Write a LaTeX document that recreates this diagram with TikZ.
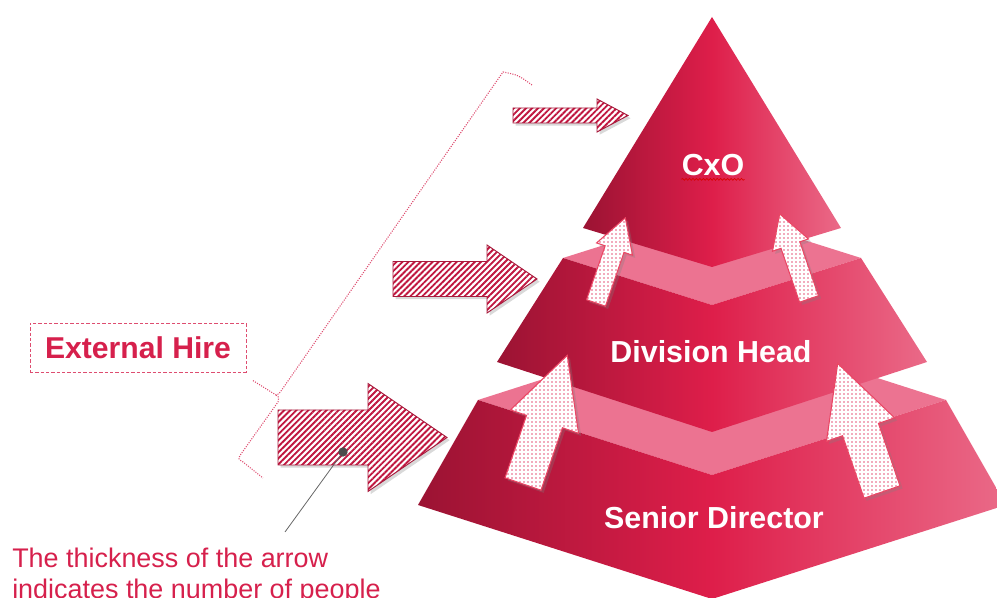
\documentclass[tikz,border=0pt]{standalone}
\usepackage{fontspec}
\setmainfont{Liberation Sans}
\usetikzlibrary{patterns.meta,shadows,decorations.pathmorphing}
\definecolor{tierdark}{HTML}{9B1333}
\definecolor{tiermid}{HTML}{DE1E4A}
\definecolor{tierlight}{HTML}{EA6A88}
\definecolor{tierband}{HTML}{EC7391}
\definecolor{hirered}{HTML}{D6204C}
\definecolor{hatchred}{HTML}{C0163F}
\definecolor{hatchedge}{HTML}{A81A3C}
\definecolor{dotpink}{HTML}{E5587D}
\begin{document}
\begin{tikzpicture}[x=0.75pt,y=0.75pt,
    tier/.style={left color=tierdark,right color=tierlight,middle color=tiermid},
    band/.style={fill=tierband},
    tierlabel/.style={text=white,inner sep=0pt,font=\bfseries\fontsize{22.8}{27}\selectfont},
    hire/.style={draw=hatchedge,line width=0.7pt,
        drop shadow={shadow xshift=2pt,shadow yshift=-2pt,opacity=0.3},
        preaction={fill=white},
        pattern={Lines[angle=45,distance=3.2pt,line width=1.4pt]},pattern color=hatchred},
    promo/.style={draw=dotpink!80!red,line width=0.8pt,
        drop shadow={shadow xshift=2pt,shadow yshift=-2pt,opacity=0.3},
        preaction={fill=white},
        pattern={Dots[radius=0.7pt,distance=3pt]},pattern color=dotpink},
    brace/.style={draw=hirered!80,line width=0.8pt,densely dotted}]
    \useasboundingbox (0,0) rectangle (997,598);

    % senior director tier
    \fill[band] (478,198) -- (712,273) -- (946,198) -- (712,123) -- cycle;
    \shade[tier] (478,198) -- (712,123) -- (946,198) -- (1006,93) -- (712,-1) -- (418,93) -- cycle;
    % division head tier
    \fill[band] (563,340) -- (712,387) -- (861,340) -- (712,293) -- cycle;
    \shade[tier] (563,340) -- (712,293) -- (861,340) -- (927,236) -- (712,166) -- (497,236) -- cycle;
    % cxo tier
    \shade[tier] (712,581) -- (841,370) -- (712,331) -- (583,370) -- cycle;

    \node[tierlabel] (cxo) at (713,433) {CxO};
    \node[tierlabel] (divhead) at (711,246) {Division Head};
    \node[tierlabel] (srdir) at (714,80) {Senior Director};
    \draw[red!85!black,line width=0.5pt,decorate,decoration={snake,amplitude=0.7pt,segment length=2.6pt}]
        ([yshift=-2.5pt]cxo.south west) -- ([yshift=-2.5pt]cxo.south east);

    % promotion arrows
    \foreach \pos/\ang in {{(596,295)}/-19,{(809,299)}/19}
        \draw[promo,shift={\pos},rotate=\ang] (-10,0) -- (-10,57) -- (-19,57) -- (0,90)
            -- (19,57) -- (10,57) -- (10,0) -- cycle;
    \foreach \pos/\ang in {{(523,114)}/-19,{(882,106)}/19}
        \draw[promo,shift={\pos},rotate=\ang] (-19,0) -- (-19,66) -- (-36,66) -- (0,136)
            -- (36,66) -- (19,66) -- (19,0) -- cycle;

    % external hire arrows
    \foreach \xa/\xb/\xt/\yc/\s/\h in {513/597/628/482.5/7.5/16.5,393/487/537/319/17.5/34,278/368/447/160.5/27.5/54}
        \draw[hire] (\xa,{\yc-\s}) -- (\xb,{\yc-\s}) -- (\xb,{\yc-\h}) -- (\xt,\yc)
            -- (\xb,{\yc+\h}) -- (\xb,{\yc+\s}) -- (\xa,{\yc+\s}) -- cycle;

    % brace
    \draw[brace] (532,513) .. controls (518,523) .. (503,526) -- (281,207)
        .. controls (279,204) .. (276,203) -- (252,218);
    \draw[brace] (276,203) .. controls (279,201) .. (278,196) -- (241,144)
        .. controls (238,139) .. (243,136) -- (263,120);

    \node[draw=hirered!80,dash pattern=on 2.5pt off 1.5pt,line width=0.7pt,minimum width=162pt,minimum height=36.75pt,
        text=hirered,font=\bfseries\fontsize{22.6}{26}\selectfont] (exthire) at (138,250.5) {External Hire};

    \node[circle,fill=black!70,inner sep=0pt,minimum size=7pt] (ptdot) at (343,146) {};
    \coordinate (ptend) at (285,66);
    \draw[black!60,line width=0.6pt] (ptdot) -- (ptend);
    \node[anchor=north west,inner sep=0pt,align=left,text=hirered,font=\fontsize{20.2}{23.25}\selectfont] (caption) at (12,50.5)
        {The thickness of the arrow\\indicates the number of people};
\end{tikzpicture}
\end{document}
